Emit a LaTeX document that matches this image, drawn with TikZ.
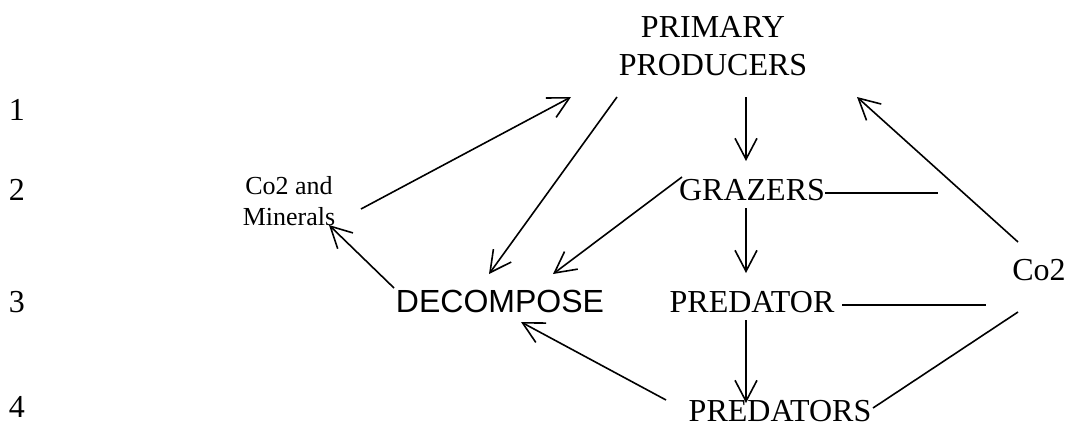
\documentclass[tikz,border=0pt]{standalone}
\usepackage{fontspec}
\setmainfont{Liberation Serif}
\newfontfamily\arialfont{Liberation Sans}
\usetikzlibrary{arrows.meta}

\begin{document}
\begin{tikzpicture}[
x=1pt, y=-1pt,
lbl/.style = {inner sep=0pt, anchor=base, font=\fontsize{32}{38}\selectfont},
arr/.style = {-{Straight Barb[length=21pt,width=22pt]}},
    line width=1.6pt
                        ]
\useasboundingbox (0,0) rectangle (1068,426);
    \node[lbl] (r1) at (17,120) {1};
    \node[lbl] (r2) at (17,200) {2};
    \node[lbl] (r3) at (17,312) {3};
    \node[lbl] (r4) at (17,417) {4};

    \node[lbl, anchor=south, align=center] (pp) at (713,77) {PRIMARY\\PRODUCERS};
    \node[lbl] (graz) at (752,200) {GRAZERS};
    \node[lbl] (pred) at (752,312) {PREDATOR};
    \node[lbl] (preds) at (780,421) {PREDATORS};
    \node[lbl, font=\fontsize{32}{38}\arialfont] (dec) at (500,312) {DECOMPOSE};
    \node[lbl] (co) at (1039,280) {Co2};
    \node[lbl, anchor=south, align=center, font=\fontsize{26}{31}\selectfont] (min) at (289,227) {Co2 and\\Minerals};
    \coordinate (gzend) at (938,193);
    \coordinate (prend) at (986,305);

    \draw[arr] ([shift={(72,-18)}]min.south) -- ([shift={(-142,20)}]pp.south);
    \draw[arr] ([shift={(-96,20)}]pp.south) -- ([shift={(-11,-38)}]dec.base);
    \draw[arr] ([shift={(-70,-23)}]graz.base) -- ([shift={(53,-38)}]dec.base);
    \draw[arr] ([shift={(-106,-24)}]dec.base) -- ([shift={(40,-2)}]min.south);
    \draw[arr] ([shift={(-114,-21)}]preds.base) -- ([shift={(21,10)}]dec.base);

    \draw[arr] ([shift={(33,20)}]pp.south) -- ([shift={(-6,-39)}]graz.base);
    \draw[arr] ([shift={(-6,8)}]graz.base) -- ([shift={(-6,-39)}]pred.base);
    \draw[arr] ([shift={(-6,8)}]pred.base) -- ([shift={(-34,-18)}]preds.base);
    \draw[arr] ([shift={(-21,-38)}]co.base) -- ([shift={(144,20)}]pp.south);

    \draw ([shift={(73,-7)}]graz.base) -- (gzend);
    \draw ([shift={(90,-7)}]pred.base) -- (prend);
    \draw ([shift={(-21,32)}]co.base) -- ([shift={(93,-13)}]preds.base);

\end{tikzpicture}
\end{document}
